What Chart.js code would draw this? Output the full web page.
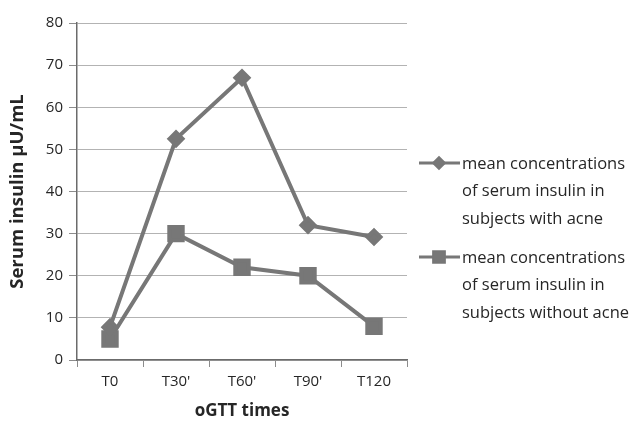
<!DOCTYPE html>
<html>
<head>
<meta charset="utf-8">
<script src="https://cdn.jsdelivr.net/npm/chart.js@4/dist/chart.umd.min.js"></script>
<style>
  html, body { margin: 0; padding: 0; background: #fff; }
  #wrap { width: 633px; height: 421px; }
</style>
</head>
<body>
<div id="wrap"><canvas id="insulinChart" width="633" height="421"></canvas></div>
<script>
const times = ['T0', "T30'", "T60'", "T90'", 'T120']
const withAcne = [7.8, 52.5, 67, 32, 29.2]
const withoutAcne = [5, 30, 22, 20, 8]
const legendLines = [
  ['mean concentrations', 'of serum insulin in', 'subjects with acne'],
  ['mean concentrations', 'of serum insulin in', 'subjects without acne'],
]

const grey = '#777777'

// legend drawn at the right side, excel style (line + marker, wrapped text)
const sideLegend = {
  id: 'sideLegend',
  afterDraw(chart) {
    const ctx = chart.ctx
    ctx.save()
    ctx.font = '16.5px "Open Sans"'
    ctx.textBaseline = 'middle'
    ctx.textAlign = 'left'
    chart.data.datasets.forEach((ds, i) => {
      const y = 163 + i * 94
      ctx.strokeStyle = ds.borderColor
      ctx.lineWidth = 3
      ctx.beginPath()
      ctx.moveTo(419, y)
      ctx.lineTo(460, y)
      ctx.stroke()
      Chart.helpers.drawPoint(ctx, {
        pointStyle: ds.pointStyle,
        radius: ds.pointRadius * 0.8,
        borderWidth: 1,
      }, 439, y)
      ctx.fillStyle = ds.backgroundColor
      ctx.fill()
      ctx.fillStyle = '#262626'
      legendLines[i].forEach((line, j) => {
        ctx.fillText(line, 462, y + 1 + j * 27.5)
      })
    })
    ctx.restore()
  },
}

new Chart(document.getElementById('insulinChart'), {
  type: 'line',
  data: {
    labels: times,
    datasets: [
      {
        label: 'mean concentrations of serum insulin in subjects with acne',
        data: withAcne,
        borderColor: grey,
        backgroundColor: grey,
        borderWidth: 4,
        pointStyle: 'rectRot',
        pointRadius: 6.5,
        pointHoverRadius: 6.5,
        tension: 0,
      },
      {
        label: 'mean concentrations of serum insulin in subjects without acne',
        data: withoutAcne,
        borderColor: grey,
        backgroundColor: grey,
        borderWidth: 4,
        pointStyle: 'rect',
        pointRadius: 9.5,
        pointHoverRadius: 9.5,
        tension: 0,
      },
    ],
  },
  options: {
    responsive: false,
    animation: false,
    layout: {
      padding: { top: 23, right: 226, bottom: 0, left: 0 },
    },
    plugins: {
      legend: { display: false },
      tooltip: { enabled: false },
    },
    scales: {
      x: {
        offset: true,
        afterFit(scale) { scale.height = 61 },
        grid: {
          offset: true,
          drawOnChartArea: false,
          tickLength: 7,
          tickColor: '#8c8c8c',
        },
        border: { color: '#6b6b6b', width: 1.5 },
        ticks: {
          color: '#262626',
          font: { family: 'Open Sans', size: 15 },
          padding: 6,
        },
        title: {
          display: true,
          text: 'oGTT times',
          color: '#262626',
          font: { family: 'Open Sans', size: 17, weight: 'bold' },
          padding: { top: 2, bottom: 0 },
        },
      },
      y: {
        min: 0,
        max: 80,
        afterFit(scale) { scale.width = 77 },
        grid: {
          color: '#b3b3b3',
          tickLength: 8,
          tickColor: '#8c8c8c',
        },
        border: { color: '#6b6b6b', width: 1.5 },
        ticks: {
          stepSize: 10,
          color: '#262626',
          font: { family: 'Open Sans', size: 15 },
          padding: 6,
        },
        title: {
          display: true,
          text: 'Serum insulin µU/mL',
          color: '#262626',
          font: { family: 'Open Sans', size: 18.5, weight: 'bold' },
          padding: { top: 7, bottom: 0 },
        },
      },
    },
  },
  plugins: [sideLegend],
})
</script>
</body>
</html>
